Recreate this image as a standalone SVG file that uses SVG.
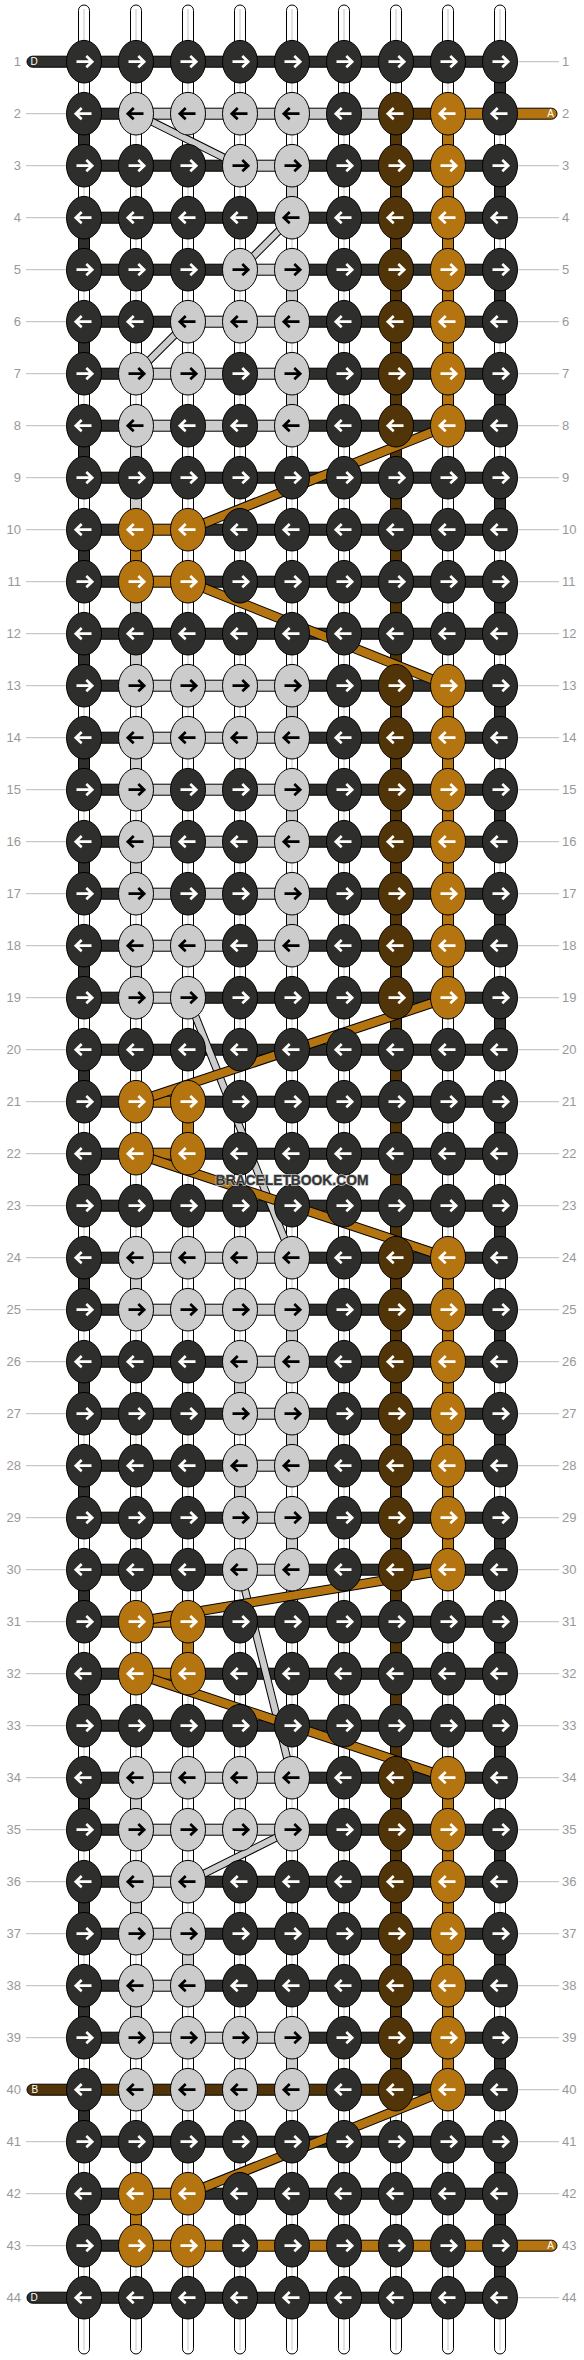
<svg xmlns="http://www.w3.org/2000/svg" width="584" height="2360" viewBox="0 0 584 2360">
<defs>
<style>
.w{fill:#fff;stroke:#000;stroke-width:1}
.wl{stroke:#c4c4c4;stroke-width:1}
.g{stroke:#bbb;stroke-width:1}
.n{font-family:"Liberation Sans",Arial,sans-serif;font-size:13px;fill:#999}
.tl{font-family:"Liberation Sans",Arial,sans-serif;font-size:10px;fill:#fff}
.d{fill:#2e2e2c;stroke:#000;stroke-width:1}
.l{fill:#ccc;stroke:#000;stroke-width:1}
.b{fill:#513508;stroke:#000;stroke-width:1}
.o{fill:#b4740f;stroke:#000;stroke-width:1}
.xo1{stroke:#000;stroke-width:10}
.xo2{stroke:#b4740f;stroke-width:8}
.xg1{stroke:#000;stroke-width:8}
.xg2{stroke:#ccc;stroke-width:6}
.wm{font-family:"Liberation Sans",Arial,sans-serif;font-size:15px;font-weight:bold;fill:#333;stroke:#bdbdbd;stroke-width:1.4;paint-order:stroke}
</style>
<path id="ar" d="M-7.5,0H7.5M2.3,-5.6L8.2,0L2.3,5.6" fill="none" stroke-width="2.7"/>
<ellipse id="e" rx="17.5" ry="21.3" stroke="#000" stroke-width="1"/>
<g id="DR"><use href="#e" fill="#2e2e2c"/><use href="#ar" stroke="#fff"/></g>
<g id="DL"><use href="#e" fill="#2e2e2c"/><use href="#ar" stroke="#fff" transform="scale(-1,1)"/></g>
<g id="LR"><use href="#e" fill="#ccc"/><use href="#ar" stroke="#000"/></g>
<g id="LL"><use href="#e" fill="#ccc"/><use href="#ar" stroke="#000" transform="scale(-1,1)"/></g>
<g id="BR"><use href="#e" fill="#513508"/><use href="#ar" stroke="#fff"/></g>
<g id="BL"><use href="#e" fill="#513508"/><use href="#ar" stroke="#fff" transform="scale(-1,1)"/></g>
<g id="OR"><use href="#e" fill="#b4740f"/><use href="#ar" stroke="#fff"/></g>
<g id="OL"><use href="#e" fill="#b4740f"/><use href="#ar" stroke="#fff" transform="scale(-1,1)"/></g>
<g id="hA" stroke="#000"><rect fill="#2e2e2c" x="84" y="-5.5" width="416" height="11"/></g>
<g id="h25" stroke="#000"><rect fill="#2e2e2c" x="84" y="-5.5" width="52" height="11"/><rect fill="#ccc" x="136" y="-5.5" width="156" height="11"/><rect fill="#2e2e2c" x="292" y="-5.5" width="208" height="11"/></g>
<g id="h45" stroke="#000"><rect fill="#2e2e2c" x="84" y="-5.5" width="156" height="11"/><rect fill="#ccc" x="240" y="-5.5" width="52" height="11"/><rect fill="#2e2e2c" x="292" y="-5.5" width="208" height="11"/></g>
<g id="h35" stroke="#000"><rect fill="#2e2e2c" x="84" y="-5.5" width="104" height="11"/><rect fill="#ccc" x="188" y="-5.5" width="104" height="11"/><rect fill="#2e2e2c" x="292" y="-5.5" width="208" height="11"/></g>
<g id="h23" stroke="#000"><rect fill="#2e2e2c" x="84" y="-5.5" width="52" height="11"/><rect fill="#ccc" x="136" y="-5.5" width="52" height="11"/><rect fill="#2e2e2c" x="188" y="-5.5" width="312" height="11"/></g>
<g id="hO" stroke="#000"><rect fill="#2e2e2c" x="84" y="-5.5" width="52" height="11"/><rect fill="#b4740f" x="136" y="-5.5" width="52" height="11"/><rect fill="#2e2e2c" x="188" y="-5.5" width="312" height="11"/></g>
<rect id="vd" x="-5.5" y="0" width="11" height="52" fill="#2e2e2c" stroke="#000"/>
<rect id="vl" x="-5.5" y="0" width="11" height="52" fill="#ccc" stroke="#000"/>
<rect id="vo" x="-5.5" y="0" width="11" height="52" fill="#b4740f" stroke="#000"/>
</defs>
<rect width="584" height="2360" fill="#fff"/>
<g id="guides">
<g class="g">
<line x1="514" x2="559" y1="61.7" y2="61.7"/>
<line x1="26" x2="70" y1="113.7" y2="113.7"/>
<line x1="26" x2="70" y1="165.7" y2="165.7"/><line x1="514" x2="559" y1="165.7" y2="165.7"/>
<line x1="26" x2="70" y1="217.7" y2="217.7"/><line x1="514" x2="559" y1="217.7" y2="217.7"/>
<line x1="26" x2="70" y1="269.7" y2="269.7"/><line x1="514" x2="559" y1="269.7" y2="269.7"/>
<line x1="26" x2="70" y1="321.7" y2="321.7"/><line x1="514" x2="559" y1="321.7" y2="321.7"/>
<line x1="26" x2="70" y1="373.7" y2="373.7"/><line x1="514" x2="559" y1="373.7" y2="373.7"/>
<line x1="26" x2="70" y1="425.7" y2="425.7"/><line x1="514" x2="559" y1="425.7" y2="425.7"/>
<line x1="26" x2="70" y1="477.7" y2="477.7"/><line x1="514" x2="559" y1="477.7" y2="477.7"/>
<line x1="26" x2="70" y1="529.7" y2="529.7"/><line x1="514" x2="559" y1="529.7" y2="529.7"/>
<line x1="26" x2="70" y1="581.7" y2="581.7"/><line x1="514" x2="559" y1="581.7" y2="581.7"/>
<line x1="26" x2="70" y1="633.7" y2="633.7"/><line x1="514" x2="559" y1="633.7" y2="633.7"/>
<line x1="26" x2="70" y1="685.7" y2="685.7"/><line x1="514" x2="559" y1="685.7" y2="685.7"/>
<line x1="26" x2="70" y1="737.7" y2="737.7"/><line x1="514" x2="559" y1="737.7" y2="737.7"/>
<line x1="26" x2="70" y1="789.7" y2="789.7"/><line x1="514" x2="559" y1="789.7" y2="789.7"/>
<line x1="26" x2="70" y1="841.7" y2="841.7"/><line x1="514" x2="559" y1="841.7" y2="841.7"/>
<line x1="26" x2="70" y1="893.7" y2="893.7"/><line x1="514" x2="559" y1="893.7" y2="893.7"/>
<line x1="26" x2="70" y1="945.7" y2="945.7"/><line x1="514" x2="559" y1="945.7" y2="945.7"/>
<line x1="26" x2="70" y1="997.7" y2="997.7"/><line x1="514" x2="559" y1="997.7" y2="997.7"/>
<line x1="26" x2="70" y1="1049.7" y2="1049.7"/><line x1="514" x2="559" y1="1049.7" y2="1049.7"/>
<line x1="26" x2="70" y1="1101.7" y2="1101.7"/><line x1="514" x2="559" y1="1101.7" y2="1101.7"/>
<line x1="26" x2="70" y1="1153.7" y2="1153.7"/><line x1="514" x2="559" y1="1153.7" y2="1153.7"/>
<line x1="26" x2="70" y1="1205.7" y2="1205.7"/><line x1="514" x2="559" y1="1205.7" y2="1205.7"/>
<line x1="26" x2="70" y1="1257.7" y2="1257.7"/><line x1="514" x2="559" y1="1257.7" y2="1257.7"/>
<line x1="26" x2="70" y1="1309.7" y2="1309.7"/><line x1="514" x2="559" y1="1309.7" y2="1309.7"/>
<line x1="26" x2="70" y1="1361.7" y2="1361.7"/><line x1="514" x2="559" y1="1361.7" y2="1361.7"/>
<line x1="26" x2="70" y1="1413.7" y2="1413.7"/><line x1="514" x2="559" y1="1413.7" y2="1413.7"/>
<line x1="26" x2="70" y1="1465.7" y2="1465.7"/><line x1="514" x2="559" y1="1465.7" y2="1465.7"/>
<line x1="26" x2="70" y1="1517.7" y2="1517.7"/><line x1="514" x2="559" y1="1517.7" y2="1517.7"/>
<line x1="26" x2="70" y1="1569.7" y2="1569.7"/><line x1="514" x2="559" y1="1569.7" y2="1569.7"/>
<line x1="26" x2="70" y1="1621.7" y2="1621.7"/><line x1="514" x2="559" y1="1621.7" y2="1621.7"/>
<line x1="26" x2="70" y1="1673.7" y2="1673.7"/><line x1="514" x2="559" y1="1673.7" y2="1673.7"/>
<line x1="26" x2="70" y1="1725.7" y2="1725.7"/><line x1="514" x2="559" y1="1725.7" y2="1725.7"/>
<line x1="26" x2="70" y1="1777.7" y2="1777.7"/><line x1="514" x2="559" y1="1777.7" y2="1777.7"/>
<line x1="26" x2="70" y1="1829.7" y2="1829.7"/><line x1="514" x2="559" y1="1829.7" y2="1829.7"/>
<line x1="26" x2="70" y1="1881.7" y2="1881.7"/><line x1="514" x2="559" y1="1881.7" y2="1881.7"/>
<line x1="26" x2="70" y1="1933.7" y2="1933.7"/><line x1="514" x2="559" y1="1933.7" y2="1933.7"/>
<line x1="26" x2="70" y1="1985.7" y2="1985.7"/><line x1="514" x2="559" y1="1985.7" y2="1985.7"/>
<line x1="26" x2="70" y1="2037.7" y2="2037.7"/><line x1="514" x2="559" y1="2037.7" y2="2037.7"/>
<line x1="514" x2="559" y1="2089.7" y2="2089.7"/>
<line x1="26" x2="70" y1="2141.7" y2="2141.7"/><line x1="514" x2="559" y1="2141.7" y2="2141.7"/>
<line x1="26" x2="70" y1="2193.7" y2="2193.7"/><line x1="514" x2="559" y1="2193.7" y2="2193.7"/>
<line x1="26" x2="70" y1="2245.7" y2="2245.7"/>
<line x1="514" x2="559" y1="2297.7" y2="2297.7"/>
</g>
</g>
<g id="connectors">
<g id="warps">
<rect class="w" x="78.5" y="5" width="11" height="2349" rx="5.5"/><rect class="w" x="130.5" y="5" width="11" height="2349" rx="5.5"/><rect class="w" x="182.5" y="5" width="11" height="2349" rx="5.5"/><rect class="w" x="234.5" y="5" width="11" height="2349" rx="5.5"/><rect class="w" x="286.5" y="5" width="11" height="2349" rx="5.5"/><rect class="w" x="338.5" y="5" width="11" height="2349" rx="5.5"/><rect class="w" x="390.5" y="5" width="11" height="2349" rx="5.5"/><rect class="w" x="442.5" y="5" width="11" height="2349" rx="5.5"/><rect class="w" x="494.5" y="5" width="11" height="2349" rx="5.5"/>
<g class="wl"><line x1="84" x2="84" y1="9" y2="2350"/><line x1="136" x2="136" y1="9" y2="2350"/><line x1="188" x2="188" y1="9" y2="2350"/><line x1="240" x2="240" y1="9" y2="2350"/><line x1="292" x2="292" y1="9" y2="2350"/><line x1="344" x2="344" y1="9" y2="2350"/><line x1="396" x2="396" y1="9" y2="2350"/><line x1="448" x2="448" y1="9" y2="2350"/><line x1="500" x2="500" y1="9" y2="2350"/></g>
</g>
<g id="vertical">
<use href="#vd" x="84" y="113.7"/><use href="#vd" x="84" y="217.7"/><use href="#vd" x="84" y="321.7"/><use href="#vd" x="84" y="425.7"/><use href="#vd" x="84" y="529.7"/><use href="#vd" x="84" y="633.7"/><use href="#vd" x="84" y="737.7"/><use href="#vd" x="84" y="841.7"/><use href="#vd" x="84" y="945.7"/><use href="#vd" x="84" y="1049.7"/><use href="#vd" x="84" y="1153.7"/><use href="#vd" x="84" y="1257.7"/><use href="#vd" x="84" y="1361.7"/><use href="#vd" x="84" y="1465.7"/><use href="#vd" x="84" y="1569.7"/><use href="#vd" x="84" y="1673.7"/><use href="#vd" x="84" y="1777.7"/><use href="#vd" x="84" y="1881.7"/><use href="#vd" x="84" y="1985.7"/><use href="#vd" x="84" y="2089.7"/><use href="#vd" x="84" y="2193.7"/>
<use href="#vd" x="500" y="61.7"/><use href="#vd" x="500" y="165.7"/><use href="#vd" x="500" y="269.7"/><use href="#vd" x="500" y="373.7"/><use href="#vd" x="500" y="477.7"/><use href="#vd" x="500" y="581.7"/><use href="#vd" x="500" y="685.7"/><use href="#vd" x="500" y="789.7"/><use href="#vd" x="500" y="893.7"/><use href="#vd" x="500" y="997.7"/><use href="#vd" x="500" y="1101.7"/><use href="#vd" x="500" y="1205.7"/><use href="#vd" x="500" y="1309.7"/><use href="#vd" x="500" y="1413.7"/><use href="#vd" x="500" y="1517.7"/><use href="#vd" x="500" y="1621.7"/><use href="#vd" x="500" y="1725.7"/><use href="#vd" x="500" y="1829.7"/><use href="#vd" x="500" y="1933.7"/><use href="#vd" x="500" y="2037.7"/><use href="#vd" x="500" y="2141.7"/><use href="#vd" x="500" y="2193.7"/><use href="#vd" x="500" y="2245.7"/>
<rect class="l" x="130.5" y="425.7" width="11" height="260"/>
<use href="#vo" x="136" y="529.7"/>
<use href="#vl" x="136" y="737.7"/><use href="#vl" x="136" y="841.7"/><use href="#vl" x="136" y="945.7"/><use href="#vl" x="136" y="1257.7"/><use href="#vl" x="136" y="1777.7"/><use href="#vl" x="136" y="1881.7"/><use href="#vl" x="136" y="1985.7"/>
<use href="#vo" x="136" y="2193.7"/>
<use href="#vo" x="188" y="1101.7"/><use href="#vo" x="188" y="1621.7"/><use href="#vl" x="188" y="1933.7"/>
<use href="#vl" x="240" y="1361.7"/><use href="#vl" x="240" y="1465.7"/>
<use href="#vl" x="292" y="165.7"/><use href="#vl" x="292" y="269.7"/><use href="#vl" x="292" y="373.7"/><use href="#vl" x="292" y="685.7"/><use href="#vl" x="292" y="789.7"/><use href="#vl" x="292" y="893.7"/><use href="#vl" x="292" y="1309.7"/><use href="#vl" x="292" y="1413.7"/><use href="#vl" x="292" y="1517.7"/><use href="#vl" x="292" y="2037.7"/>
<rect class="b" x="390.5" y="113.7" width="11" height="1976"/>
<rect class="o" x="442.5" y="113.7" width="11" height="312"/><rect class="o" x="442.5" y="685.7" width="11" height="312"/><rect class="o" x="442.5" y="1257.7" width="11" height="312"/><rect class="o" x="442.5" y="1777.7" width="11" height="312"/>
</g>
<g id="horizontal">
<rect class="d" x="27" y="56.2" width="65" height="11" rx="5.5"/>
<use href="#hA" y="61.7"/>
<g transform="translate(0,113.7)"><rect class="o" x="490" y="-5.5" width="67" height="11" rx="5.5"/><rect class="d" x="84" y="-5.5" width="52" height="11"/><rect class="l" x="136" y="-5.5" width="260" height="11"/><rect class="b" x="396" y="-5.5" width="52" height="11"/><rect class="o" x="448" y="-5.5" width="52" height="11"/></g>
<use href="#h45" y="165.7"/>
<use href="#hA" y="217.7"/>
<use href="#h45" y="269.7"/>
<use href="#h35" y="321.7"/>
<use href="#h25" y="373.7"/>
<use href="#h25" y="425.7"/>
<use href="#hA" y="477.7"/>
<use href="#hO" y="529.7"/>
<use href="#hO" y="581.7"/>
<use href="#hA" y="633.7"/>
<use href="#h25" y="685.7"/>
<use href="#h25" y="737.7"/>
<use href="#h25" y="789.7"/>
<use href="#h25" y="841.7"/>
<use href="#h25" y="893.7"/>
<use href="#h25" y="945.7"/>
<use href="#h23" y="997.7"/>
<use href="#hA" y="1049.7"/>
<use href="#hO" y="1101.7"/>
<use href="#hO" y="1153.7"/>
<use href="#hA" y="1205.7"/>
<use href="#h25" y="1257.7"/>
<use href="#h25" y="1309.7"/>
<use href="#h45" y="1361.7"/>
<use href="#h45" y="1413.7"/>
<use href="#h45" y="1465.7"/>
<use href="#h45" y="1517.7"/>
<use href="#h45" y="1569.7"/>
<use href="#hO" y="1621.7"/>
<use href="#hO" y="1673.7"/>
<use href="#hA" y="1725.7"/>
<use href="#h25" y="1777.7"/>
<use href="#h25" y="1829.7"/>
<use href="#h23" y="1881.7"/>
<use href="#h23" y="1933.7"/>
<use href="#h23" y="1985.7"/>
<use href="#h25" y="2037.7"/>
<g transform="translate(0,2089.7)"><rect class="b" x="27" y="-5.5" width="65" height="11" rx="5.5"/><rect class="b" x="84" y="-5.5" width="312" height="11"/><rect class="d" x="396" y="-5.5" width="104" height="11"/></g>
<use href="#hA" y="2141.7"/>
<use href="#hO" y="2193.7"/>
<g transform="translate(0,2245.7)"><rect class="o" x="490" y="-5.5" width="67" height="11" rx="5.5"/><rect class="d" x="84" y="-5.5" width="52" height="11"/><rect class="o" x="136" y="-5.5" width="364" height="11"/></g>
<rect class="d" x="27" y="2292.2" width="65" height="11" rx="5.5"/>
<use href="#hA" y="2297.7"/>
</g>
<g id="diagonals">
<line class="xg1" x1="136" y1="113.7" x2="240" y2="165.7"/><line class="xg2" x1="136" y1="113.7" x2="240" y2="165.7"/>
<line class="xg1" x1="292" y1="217.7" x2="240" y2="269.7"/><line class="xg2" x1="292" y1="217.7" x2="240" y2="269.7"/>
<line class="xg1" x1="188" y1="321.7" x2="136" y2="373.7"/><line class="xg2" x1="188" y1="321.7" x2="136" y2="373.7"/>
<line class="xg1" x1="188" y1="997.7" x2="292" y2="1257.7"/><line class="xg2" x1="188" y1="997.7" x2="292" y2="1257.7"/>
<line class="xg1" x1="240" y1="1569.7" x2="292" y2="1777.7"/><line class="xg2" x1="240" y1="1569.7" x2="292" y2="1777.7"/>
<line class="xg1" x1="292" y1="1829.7" x2="188" y2="1881.7"/><line class="xg2" x1="292" y1="1829.7" x2="188" y2="1881.7"/>
<line class="xo1" x1="448" y1="425.7" x2="188" y2="529.7"/><line class="xo2" x1="448" y1="425.7" x2="188" y2="529.7"/>
<line class="xo1" x1="188" y1="581.7" x2="448" y2="685.7"/><line class="xo2" x1="188" y1="581.7" x2="448" y2="685.7"/>
<line class="xo1" x1="448" y1="997.7" x2="136" y2="1101.7"/><line class="xo2" x1="448" y1="997.7" x2="136" y2="1101.7"/>
<line class="xo1" x1="136" y1="1153.7" x2="448" y2="1257.7"/><line class="xo2" x1="136" y1="1153.7" x2="448" y2="1257.7"/>
<line class="xo1" x1="448" y1="1569.7" x2="136" y2="1621.7"/><line class="xo2" x1="448" y1="1569.7" x2="136" y2="1621.7"/>
<line class="xo1" x1="136" y1="1673.7" x2="448" y2="1777.7"/><line class="xo2" x1="136" y1="1673.7" x2="448" y2="1777.7"/>
<line class="xo1" x1="448" y1="2089.7" x2="188" y2="2193.7"/><line class="xo2" x1="448" y1="2089.7" x2="188" y2="2193.7"/>
</g>
</g>
<g id="knots">
<g transform="translate(0,61.7)"><g id="k1-1"><use href="#DR" x="84"/></g><g id="k1-2"><use href="#DR" x="136"/></g><g id="k1-3"><use href="#DR" x="188"/></g><g id="k1-4"><use href="#DR" x="240"/></g><g id="k1-5"><use href="#DR" x="292"/></g><g id="k1-6"><use href="#DR" x="344"/></g><g id="k1-7"><use href="#DR" x="396"/></g><g id="k1-8"><use href="#DR" x="448"/></g><g id="k1-9"><use href="#DR" x="500"/></g></g>
<g transform="translate(0,113.7)"><g id="k2-1"><use href="#DL" x="84"/></g><g id="k2-2"><use href="#LL" x="136"/></g><g id="k2-3"><use href="#LL" x="188"/></g><g id="k2-4"><use href="#LL" x="240"/></g><g id="k2-5"><use href="#LL" x="292"/></g><g id="k2-6"><use href="#DL" x="344"/></g><g id="k2-7"><use href="#BL" x="396"/></g><g id="k2-8"><use href="#OL" x="448"/></g><g id="k2-9"><use href="#DL" x="500"/></g></g>
<g transform="translate(0,165.7)"><g id="k3-1"><use href="#DR" x="84"/></g><g id="k3-2"><use href="#DR" x="136"/></g><g id="k3-3"><use href="#DR" x="188"/></g><g id="k3-4"><use href="#LR" x="240"/></g><g id="k3-5"><use href="#LR" x="292"/></g><g id="k3-6"><use href="#DR" x="344"/></g><g id="k3-7"><use href="#BR" x="396"/></g><g id="k3-8"><use href="#OR" x="448"/></g><g id="k3-9"><use href="#DR" x="500"/></g></g>
<g transform="translate(0,217.7)"><g id="k4-1"><use href="#DL" x="84"/></g><g id="k4-2"><use href="#DL" x="136"/></g><g id="k4-3"><use href="#DL" x="188"/></g><g id="k4-4"><use href="#DL" x="240"/></g><g id="k4-5"><use href="#LL" x="292"/></g><g id="k4-6"><use href="#DL" x="344"/></g><g id="k4-7"><use href="#BL" x="396"/></g><g id="k4-8"><use href="#OL" x="448"/></g><g id="k4-9"><use href="#DL" x="500"/></g></g>
<g transform="translate(0,269.7)"><g id="k5-1"><use href="#DR" x="84"/></g><g id="k5-2"><use href="#DR" x="136"/></g><g id="k5-3"><use href="#DR" x="188"/></g><g id="k5-4"><use href="#LR" x="240"/></g><g id="k5-5"><use href="#LR" x="292"/></g><g id="k5-6"><use href="#DR" x="344"/></g><g id="k5-7"><use href="#BR" x="396"/></g><g id="k5-8"><use href="#OR" x="448"/></g><g id="k5-9"><use href="#DR" x="500"/></g></g>
<g transform="translate(0,321.7)"><g id="k6-1"><use href="#DL" x="84"/></g><g id="k6-2"><use href="#DL" x="136"/></g><g id="k6-3"><use href="#LL" x="188"/></g><g id="k6-4"><use href="#LL" x="240"/></g><g id="k6-5"><use href="#LL" x="292"/></g><g id="k6-6"><use href="#DL" x="344"/></g><g id="k6-7"><use href="#BL" x="396"/></g><g id="k6-8"><use href="#OL" x="448"/></g><g id="k6-9"><use href="#DL" x="500"/></g></g>
<g transform="translate(0,373.7)"><g id="k7-1"><use href="#DR" x="84"/></g><g id="k7-2"><use href="#LR" x="136"/></g><g id="k7-3"><use href="#LR" x="188"/></g><g id="k7-4"><use href="#DR" x="240"/></g><g id="k7-5"><use href="#LR" x="292"/></g><g id="k7-6"><use href="#DR" x="344"/></g><g id="k7-7"><use href="#BR" x="396"/></g><g id="k7-8"><use href="#OR" x="448"/></g><g id="k7-9"><use href="#DR" x="500"/></g></g>
<g transform="translate(0,425.7)"><g id="k8-1"><use href="#DL" x="84"/></g><g id="k8-2"><use href="#LL" x="136"/></g><g id="k8-3"><use href="#DL" x="188"/></g><g id="k8-4"><use href="#DL" x="240"/></g><g id="k8-5"><use href="#LL" x="292"/></g><g id="k8-6"><use href="#DL" x="344"/></g><g id="k8-7"><use href="#BL" x="396"/></g><g id="k8-8"><use href="#OL" x="448"/></g><g id="k8-9"><use href="#DL" x="500"/></g></g>
<g transform="translate(0,477.7)"><g id="k9-1"><use href="#DR" x="84"/></g><g id="k9-2"><use href="#DR" x="136"/></g><g id="k9-3"><use href="#DR" x="188"/></g><g id="k9-4"><use href="#DR" x="240"/></g><g id="k9-5"><use href="#DR" x="292"/></g><g id="k9-6"><use href="#DR" x="344"/></g><g id="k9-7"><use href="#DR" x="396"/></g><g id="k9-8"><use href="#DR" x="448"/></g><g id="k9-9"><use href="#DR" x="500"/></g></g>
<g transform="translate(0,529.7)"><g id="k10-1"><use href="#DL" x="84"/></g><g id="k10-2"><use href="#OL" x="136"/></g><g id="k10-3"><use href="#OL" x="188"/></g><g id="k10-4"><use href="#DL" x="240"/></g><g id="k10-5"><use href="#DL" x="292"/></g><g id="k10-6"><use href="#DL" x="344"/></g><g id="k10-7"><use href="#DL" x="396"/></g><g id="k10-8"><use href="#DL" x="448"/></g><g id="k10-9"><use href="#DL" x="500"/></g></g>
<g transform="translate(0,581.7)"><g id="k11-1"><use href="#DR" x="84"/></g><g id="k11-2"><use href="#OR" x="136"/></g><g id="k11-3"><use href="#OR" x="188"/></g><g id="k11-4"><use href="#DR" x="240"/></g><g id="k11-5"><use href="#DR" x="292"/></g><g id="k11-6"><use href="#DR" x="344"/></g><g id="k11-7"><use href="#DR" x="396"/></g><g id="k11-8"><use href="#DR" x="448"/></g><g id="k11-9"><use href="#DR" x="500"/></g></g>
<g transform="translate(0,633.7)"><g id="k12-1"><use href="#DL" x="84"/></g><g id="k12-2"><use href="#DL" x="136"/></g><g id="k12-3"><use href="#DL" x="188"/></g><g id="k12-4"><use href="#DL" x="240"/></g><g id="k12-5"><use href="#DL" x="292"/></g><g id="k12-6"><use href="#DL" x="344"/></g><g id="k12-7"><use href="#DL" x="396"/></g><g id="k12-8"><use href="#DL" x="448"/></g><g id="k12-9"><use href="#DL" x="500"/></g></g>
<g transform="translate(0,685.7)"><g id="k13-1"><use href="#DR" x="84"/></g><g id="k13-2"><use href="#LR" x="136"/></g><g id="k13-3"><use href="#LR" x="188"/></g><g id="k13-4"><use href="#LR" x="240"/></g><g id="k13-5"><use href="#LR" x="292"/></g><g id="k13-6"><use href="#DR" x="344"/></g><g id="k13-7"><use href="#BR" x="396"/></g><g id="k13-8"><use href="#OR" x="448"/></g><g id="k13-9"><use href="#DR" x="500"/></g></g>
<g transform="translate(0,737.7)"><g id="k14-1"><use href="#DL" x="84"/></g><g id="k14-2"><use href="#LL" x="136"/></g><g id="k14-3"><use href="#LL" x="188"/></g><g id="k14-4"><use href="#LL" x="240"/></g><g id="k14-5"><use href="#LL" x="292"/></g><g id="k14-6"><use href="#DL" x="344"/></g><g id="k14-7"><use href="#BL" x="396"/></g><g id="k14-8"><use href="#OL" x="448"/></g><g id="k14-9"><use href="#DL" x="500"/></g></g>
<g transform="translate(0,789.7)"><g id="k15-1"><use href="#DR" x="84"/></g><g id="k15-2"><use href="#LR" x="136"/></g><g id="k15-3"><use href="#DR" x="188"/></g><g id="k15-4"><use href="#DR" x="240"/></g><g id="k15-5"><use href="#LR" x="292"/></g><g id="k15-6"><use href="#DR" x="344"/></g><g id="k15-7"><use href="#BR" x="396"/></g><g id="k15-8"><use href="#OR" x="448"/></g><g id="k15-9"><use href="#DR" x="500"/></g></g>
<g transform="translate(0,841.7)"><g id="k16-1"><use href="#DL" x="84"/></g><g id="k16-2"><use href="#LL" x="136"/></g><g id="k16-3"><use href="#DL" x="188"/></g><g id="k16-4"><use href="#DL" x="240"/></g><g id="k16-5"><use href="#LL" x="292"/></g><g id="k16-6"><use href="#DL" x="344"/></g><g id="k16-7"><use href="#BL" x="396"/></g><g id="k16-8"><use href="#OL" x="448"/></g><g id="k16-9"><use href="#DL" x="500"/></g></g>
<g transform="translate(0,893.7)"><g id="k17-1"><use href="#DR" x="84"/></g><g id="k17-2"><use href="#LR" x="136"/></g><g id="k17-3"><use href="#DR" x="188"/></g><g id="k17-4"><use href="#DR" x="240"/></g><g id="k17-5"><use href="#LR" x="292"/></g><g id="k17-6"><use href="#DR" x="344"/></g><g id="k17-7"><use href="#BR" x="396"/></g><g id="k17-8"><use href="#OR" x="448"/></g><g id="k17-9"><use href="#DR" x="500"/></g></g>
<g transform="translate(0,945.7)"><g id="k18-1"><use href="#DL" x="84"/></g><g id="k18-2"><use href="#LL" x="136"/></g><g id="k18-3"><use href="#LL" x="188"/></g><g id="k18-4"><use href="#DL" x="240"/></g><g id="k18-5"><use href="#LL" x="292"/></g><g id="k18-6"><use href="#DL" x="344"/></g><g id="k18-7"><use href="#BL" x="396"/></g><g id="k18-8"><use href="#OL" x="448"/></g><g id="k18-9"><use href="#DL" x="500"/></g></g>
<g transform="translate(0,997.7)"><g id="k19-1"><use href="#DR" x="84"/></g><g id="k19-2"><use href="#LR" x="136"/></g><g id="k19-3"><use href="#LR" x="188"/></g><g id="k19-4"><use href="#DR" x="240"/></g><g id="k19-5"><use href="#DR" x="292"/></g><g id="k19-6"><use href="#DR" x="344"/></g><g id="k19-7"><use href="#BR" x="396"/></g><g id="k19-8"><use href="#OR" x="448"/></g><g id="k19-9"><use href="#DR" x="500"/></g></g>
<g transform="translate(0,1049.7)"><g id="k20-1"><use href="#DL" x="84"/></g><g id="k20-2"><use href="#DL" x="136"/></g><g id="k20-3"><use href="#DL" x="188"/></g><g id="k20-4"><use href="#DL" x="240"/></g><g id="k20-5"><use href="#DL" x="292"/></g><g id="k20-6"><use href="#DL" x="344"/></g><g id="k20-7"><use href="#DL" x="396"/></g><g id="k20-8"><use href="#DL" x="448"/></g><g id="k20-9"><use href="#DL" x="500"/></g></g>
<g transform="translate(0,1101.7)"><g id="k21-1"><use href="#DR" x="84"/></g><g id="k21-2"><use href="#OR" x="136"/></g><g id="k21-3"><use href="#OR" x="188"/></g><g id="k21-4"><use href="#DR" x="240"/></g><g id="k21-5"><use href="#DR" x="292"/></g><g id="k21-6"><use href="#DR" x="344"/></g><g id="k21-7"><use href="#DR" x="396"/></g><g id="k21-8"><use href="#DR" x="448"/></g><g id="k21-9"><use href="#DR" x="500"/></g></g>
<g transform="translate(0,1153.7)"><g id="k22-1"><use href="#DL" x="84"/></g><g id="k22-2"><use href="#OL" x="136"/></g><g id="k22-3"><use href="#OL" x="188"/></g><g id="k22-4"><use href="#DL" x="240"/></g><g id="k22-5"><use href="#DL" x="292"/></g><g id="k22-6"><use href="#DL" x="344"/></g><g id="k22-7"><use href="#DL" x="396"/></g><g id="k22-8"><use href="#DL" x="448"/></g><g id="k22-9"><use href="#DL" x="500"/></g></g>
<g transform="translate(0,1205.7)"><g id="k23-1"><use href="#DR" x="84"/></g><g id="k23-2"><use href="#DR" x="136"/></g><g id="k23-3"><use href="#DR" x="188"/></g><g id="k23-4"><use href="#DR" x="240"/></g><g id="k23-5"><use href="#DR" x="292"/></g><g id="k23-6"><use href="#DR" x="344"/></g><g id="k23-7"><use href="#DR" x="396"/></g><g id="k23-8"><use href="#DR" x="448"/></g><g id="k23-9"><use href="#DR" x="500"/></g></g>
<g transform="translate(0,1257.7)"><g id="k24-1"><use href="#DL" x="84"/></g><g id="k24-2"><use href="#LL" x="136"/></g><g id="k24-3"><use href="#LL" x="188"/></g><g id="k24-4"><use href="#LL" x="240"/></g><g id="k24-5"><use href="#LL" x="292"/></g><g id="k24-6"><use href="#DL" x="344"/></g><g id="k24-7"><use href="#BL" x="396"/></g><g id="k24-8"><use href="#OL" x="448"/></g><g id="k24-9"><use href="#DL" x="500"/></g></g>
<g transform="translate(0,1309.7)"><g id="k25-1"><use href="#DR" x="84"/></g><g id="k25-2"><use href="#LR" x="136"/></g><g id="k25-3"><use href="#LR" x="188"/></g><g id="k25-4"><use href="#LR" x="240"/></g><g id="k25-5"><use href="#LR" x="292"/></g><g id="k25-6"><use href="#DR" x="344"/></g><g id="k25-7"><use href="#BR" x="396"/></g><g id="k25-8"><use href="#OR" x="448"/></g><g id="k25-9"><use href="#DR" x="500"/></g></g>
<g transform="translate(0,1361.7)"><g id="k26-1"><use href="#DL" x="84"/></g><g id="k26-2"><use href="#DL" x="136"/></g><g id="k26-3"><use href="#DL" x="188"/></g><g id="k26-4"><use href="#LL" x="240"/></g><g id="k26-5"><use href="#LL" x="292"/></g><g id="k26-6"><use href="#DL" x="344"/></g><g id="k26-7"><use href="#BL" x="396"/></g><g id="k26-8"><use href="#OL" x="448"/></g><g id="k26-9"><use href="#DL" x="500"/></g></g>
<g transform="translate(0,1413.7)"><g id="k27-1"><use href="#DR" x="84"/></g><g id="k27-2"><use href="#DR" x="136"/></g><g id="k27-3"><use href="#DR" x="188"/></g><g id="k27-4"><use href="#LR" x="240"/></g><g id="k27-5"><use href="#LR" x="292"/></g><g id="k27-6"><use href="#DR" x="344"/></g><g id="k27-7"><use href="#BR" x="396"/></g><g id="k27-8"><use href="#OR" x="448"/></g><g id="k27-9"><use href="#DR" x="500"/></g></g>
<g transform="translate(0,1465.7)"><g id="k28-1"><use href="#DL" x="84"/></g><g id="k28-2"><use href="#DL" x="136"/></g><g id="k28-3"><use href="#DL" x="188"/></g><g id="k28-4"><use href="#LL" x="240"/></g><g id="k28-5"><use href="#LL" x="292"/></g><g id="k28-6"><use href="#DL" x="344"/></g><g id="k28-7"><use href="#BL" x="396"/></g><g id="k28-8"><use href="#OL" x="448"/></g><g id="k28-9"><use href="#DL" x="500"/></g></g>
<g transform="translate(0,1517.7)"><g id="k29-1"><use href="#DR" x="84"/></g><g id="k29-2"><use href="#DR" x="136"/></g><g id="k29-3"><use href="#DR" x="188"/></g><g id="k29-4"><use href="#LR" x="240"/></g><g id="k29-5"><use href="#LR" x="292"/></g><g id="k29-6"><use href="#DR" x="344"/></g><g id="k29-7"><use href="#BR" x="396"/></g><g id="k29-8"><use href="#OR" x="448"/></g><g id="k29-9"><use href="#DR" x="500"/></g></g>
<g transform="translate(0,1569.7)"><g id="k30-1"><use href="#DL" x="84"/></g><g id="k30-2"><use href="#DL" x="136"/></g><g id="k30-3"><use href="#DL" x="188"/></g><g id="k30-4"><use href="#LL" x="240"/></g><g id="k30-5"><use href="#LL" x="292"/></g><g id="k30-6"><use href="#DL" x="344"/></g><g id="k30-7"><use href="#BL" x="396"/></g><g id="k30-8"><use href="#OL" x="448"/></g><g id="k30-9"><use href="#DL" x="500"/></g></g>
<g transform="translate(0,1621.7)"><g id="k31-1"><use href="#DR" x="84"/></g><g id="k31-2"><use href="#OR" x="136"/></g><g id="k31-3"><use href="#OR" x="188"/></g><g id="k31-4"><use href="#DR" x="240"/></g><g id="k31-5"><use href="#DR" x="292"/></g><g id="k31-6"><use href="#DR" x="344"/></g><g id="k31-7"><use href="#DR" x="396"/></g><g id="k31-8"><use href="#DR" x="448"/></g><g id="k31-9"><use href="#DR" x="500"/></g></g>
<g transform="translate(0,1673.7)"><g id="k32-1"><use href="#DL" x="84"/></g><g id="k32-2"><use href="#OL" x="136"/></g><g id="k32-3"><use href="#OL" x="188"/></g><g id="k32-4"><use href="#DL" x="240"/></g><g id="k32-5"><use href="#DL" x="292"/></g><g id="k32-6"><use href="#DL" x="344"/></g><g id="k32-7"><use href="#DL" x="396"/></g><g id="k32-8"><use href="#DL" x="448"/></g><g id="k32-9"><use href="#DL" x="500"/></g></g>
<g transform="translate(0,1725.7)"><g id="k33-1"><use href="#DR" x="84"/></g><g id="k33-2"><use href="#DR" x="136"/></g><g id="k33-3"><use href="#DR" x="188"/></g><g id="k33-4"><use href="#DR" x="240"/></g><g id="k33-5"><use href="#DR" x="292"/></g><g id="k33-6"><use href="#DR" x="344"/></g><g id="k33-7"><use href="#DR" x="396"/></g><g id="k33-8"><use href="#DR" x="448"/></g><g id="k33-9"><use href="#DR" x="500"/></g></g>
<g transform="translate(0,1777.7)"><g id="k34-1"><use href="#DL" x="84"/></g><g id="k34-2"><use href="#LL" x="136"/></g><g id="k34-3"><use href="#LL" x="188"/></g><g id="k34-4"><use href="#LL" x="240"/></g><g id="k34-5"><use href="#LL" x="292"/></g><g id="k34-6"><use href="#DL" x="344"/></g><g id="k34-7"><use href="#BL" x="396"/></g><g id="k34-8"><use href="#OL" x="448"/></g><g id="k34-9"><use href="#DL" x="500"/></g></g>
<g transform="translate(0,1829.7)"><g id="k35-1"><use href="#DR" x="84"/></g><g id="k35-2"><use href="#LR" x="136"/></g><g id="k35-3"><use href="#LR" x="188"/></g><g id="k35-4"><use href="#LR" x="240"/></g><g id="k35-5"><use href="#LR" x="292"/></g><g id="k35-6"><use href="#DR" x="344"/></g><g id="k35-7"><use href="#BR" x="396"/></g><g id="k35-8"><use href="#OR" x="448"/></g><g id="k35-9"><use href="#DR" x="500"/></g></g>
<g transform="translate(0,1881.7)"><g id="k36-1"><use href="#DL" x="84"/></g><g id="k36-2"><use href="#LL" x="136"/></g><g id="k36-3"><use href="#LL" x="188"/></g><g id="k36-4"><use href="#DL" x="240"/></g><g id="k36-5"><use href="#DL" x="292"/></g><g id="k36-6"><use href="#DL" x="344"/></g><g id="k36-7"><use href="#BL" x="396"/></g><g id="k36-8"><use href="#OL" x="448"/></g><g id="k36-9"><use href="#DL" x="500"/></g></g>
<g transform="translate(0,1933.7)"><g id="k37-1"><use href="#DR" x="84"/></g><g id="k37-2"><use href="#LR" x="136"/></g><g id="k37-3"><use href="#LR" x="188"/></g><g id="k37-4"><use href="#DR" x="240"/></g><g id="k37-5"><use href="#DR" x="292"/></g><g id="k37-6"><use href="#DR" x="344"/></g><g id="k37-7"><use href="#BR" x="396"/></g><g id="k37-8"><use href="#OR" x="448"/></g><g id="k37-9"><use href="#DR" x="500"/></g></g>
<g transform="translate(0,1985.7)"><g id="k38-1"><use href="#DL" x="84"/></g><g id="k38-2"><use href="#LL" x="136"/></g><g id="k38-3"><use href="#LL" x="188"/></g><g id="k38-4"><use href="#DL" x="240"/></g><g id="k38-5"><use href="#DL" x="292"/></g><g id="k38-6"><use href="#DL" x="344"/></g><g id="k38-7"><use href="#BL" x="396"/></g><g id="k38-8"><use href="#OL" x="448"/></g><g id="k38-9"><use href="#DL" x="500"/></g></g>
<g transform="translate(0,2037.7)"><g id="k39-1"><use href="#DR" x="84"/></g><g id="k39-2"><use href="#LR" x="136"/></g><g id="k39-3"><use href="#LR" x="188"/></g><g id="k39-4"><use href="#LR" x="240"/></g><g id="k39-5"><use href="#LR" x="292"/></g><g id="k39-6"><use href="#DR" x="344"/></g><g id="k39-7"><use href="#BR" x="396"/></g><g id="k39-8"><use href="#OR" x="448"/></g><g id="k39-9"><use href="#DR" x="500"/></g></g>
<g transform="translate(0,2089.7)"><g id="k40-1"><use href="#DL" x="84"/></g><g id="k40-2"><use href="#LL" x="136"/></g><g id="k40-3"><use href="#LL" x="188"/></g><g id="k40-4"><use href="#LL" x="240"/></g><g id="k40-5"><use href="#LL" x="292"/></g><g id="k40-6"><use href="#DL" x="344"/></g><g id="k40-7"><use href="#BL" x="396"/></g><g id="k40-8"><use href="#OL" x="448"/></g><g id="k40-9"><use href="#DL" x="500"/></g></g>
<g transform="translate(0,2141.7)"><g id="k41-1"><use href="#DR" x="84"/></g><g id="k41-2"><use href="#DR" x="136"/></g><g id="k41-3"><use href="#DR" x="188"/></g><g id="k41-4"><use href="#DR" x="240"/></g><g id="k41-5"><use href="#DR" x="292"/></g><g id="k41-6"><use href="#DR" x="344"/></g><g id="k41-7"><use href="#DR" x="396"/></g><g id="k41-8"><use href="#DR" x="448"/></g><g id="k41-9"><use href="#DR" x="500"/></g></g>
<g transform="translate(0,2193.7)"><g id="k42-1"><use href="#DL" x="84"/></g><g id="k42-2"><use href="#OL" x="136"/></g><g id="k42-3"><use href="#OL" x="188"/></g><g id="k42-4"><use href="#DL" x="240"/></g><g id="k42-5"><use href="#DL" x="292"/></g><g id="k42-6"><use href="#DL" x="344"/></g><g id="k42-7"><use href="#DL" x="396"/></g><g id="k42-8"><use href="#DL" x="448"/></g><g id="k42-9"><use href="#DL" x="500"/></g></g>
<g transform="translate(0,2245.7)"><g id="k43-1"><use href="#DR" x="84"/></g><g id="k43-2"><use href="#OR" x="136"/></g><g id="k43-3"><use href="#OR" x="188"/></g><g id="k43-4"><use href="#DR" x="240"/></g><g id="k43-5"><use href="#DR" x="292"/></g><g id="k43-6"><use href="#DR" x="344"/></g><g id="k43-7"><use href="#DR" x="396"/></g><g id="k43-8"><use href="#DR" x="448"/></g><g id="k43-9"><use href="#DR" x="500"/></g></g>
<g transform="translate(0,2297.7)"><g id="k44-1"><use href="#DL" x="84"/></g><g id="k44-2"><use href="#DL" x="136"/></g><g id="k44-3"><use href="#DL" x="188"/></g><g id="k44-4"><use href="#DL" x="240"/></g><g id="k44-5"><use href="#DL" x="292"/></g><g id="k44-6"><use href="#DL" x="344"/></g><g id="k44-7"><use href="#DL" x="396"/></g><g id="k44-8"><use href="#DL" x="448"/></g><g id="k44-9"><use href="#DL" x="500"/></g></g>
</g>
<g id="tail-labels" class="tl">
<text x="30.5" y="65.3">D</text>
<text x="554" y="117.3" text-anchor="end">A</text>
<text x="31.5" y="2093.3">B</text>
<text x="554" y="2249.3" text-anchor="end">A</text>
<text x="30.5" y="2301.3">D</text>
</g>
<g id="row-numbers" class="n">
<g text-anchor="end">
<text x="21" y="66.3">1</text><text x="21" y="118.3">2</text><text x="21" y="170.3">3</text><text x="21" y="222.3">4</text><text x="21" y="274.3">5</text><text x="21" y="326.3">6</text><text x="21" y="378.3">7</text><text x="21" y="430.3">8</text><text x="21" y="482.3">9</text><text x="21" y="534.3">10</text><text x="21" y="586.3">11</text><text x="21" y="638.3">12</text><text x="21" y="690.3">13</text><text x="21" y="742.3">14</text><text x="21" y="794.3">15</text><text x="21" y="846.3">16</text><text x="21" y="898.3">17</text><text x="21" y="950.3">18</text><text x="21" y="1002.3">19</text><text x="21" y="1054.3">20</text><text x="21" y="1106.3">21</text><text x="21" y="1158.3">22</text><text x="21" y="1210.3">23</text><text x="21" y="1262.3">24</text><text x="21" y="1314.3">25</text><text x="21" y="1366.3">26</text><text x="21" y="1418.3">27</text><text x="21" y="1470.3">28</text><text x="21" y="1522.3">29</text><text x="21" y="1574.3">30</text><text x="21" y="1626.3">31</text><text x="21" y="1678.3">32</text><text x="21" y="1730.3">33</text><text x="21" y="1782.3">34</text><text x="21" y="1834.3">35</text><text x="21" y="1886.3">36</text><text x="21" y="1938.3">37</text><text x="21" y="1990.3">38</text><text x="21" y="2042.3">39</text><text x="21" y="2094.3">40</text><text x="21" y="2146.3">41</text><text x="21" y="2198.3">42</text><text x="21" y="2250.3">43</text><text x="21" y="2302.3">44</text>
</g>
<g>
<text x="562" y="66.3">1</text><text x="562" y="118.3">2</text><text x="562" y="170.3">3</text><text x="562" y="222.3">4</text><text x="562" y="274.3">5</text><text x="562" y="326.3">6</text><text x="562" y="378.3">7</text><text x="562" y="430.3">8</text><text x="562" y="482.3">9</text><text x="562" y="534.3">10</text><text x="562" y="586.3">11</text><text x="562" y="638.3">12</text><text x="562" y="690.3">13</text><text x="562" y="742.3">14</text><text x="562" y="794.3">15</text><text x="562" y="846.3">16</text><text x="562" y="898.3">17</text><text x="562" y="950.3">18</text><text x="562" y="1002.3">19</text><text x="562" y="1054.3">20</text><text x="562" y="1106.3">21</text><text x="562" y="1158.3">22</text><text x="562" y="1210.3">23</text><text x="562" y="1262.3">24</text><text x="562" y="1314.3">25</text><text x="562" y="1366.3">26</text><text x="562" y="1418.3">27</text><text x="562" y="1470.3">28</text><text x="562" y="1522.3">29</text><text x="562" y="1574.3">30</text><text x="562" y="1626.3">31</text><text x="562" y="1678.3">32</text><text x="562" y="1730.3">33</text><text x="562" y="1782.3">34</text><text x="562" y="1834.3">35</text><text x="562" y="1886.3">36</text><text x="562" y="1938.3">37</text><text x="562" y="1990.3">38</text><text x="562" y="2042.3">39</text><text x="562" y="2094.3">40</text><text x="562" y="2146.3">41</text><text x="562" y="2198.3">42</text><text x="562" y="2250.3">43</text><text x="562" y="2302.3">44</text>
</g>
</g>
<text class="wm" x="215.5" y="1185" textLength="153" lengthAdjust="spacingAndGlyphs">BRACELETBOOK.COM</text>
</svg>
